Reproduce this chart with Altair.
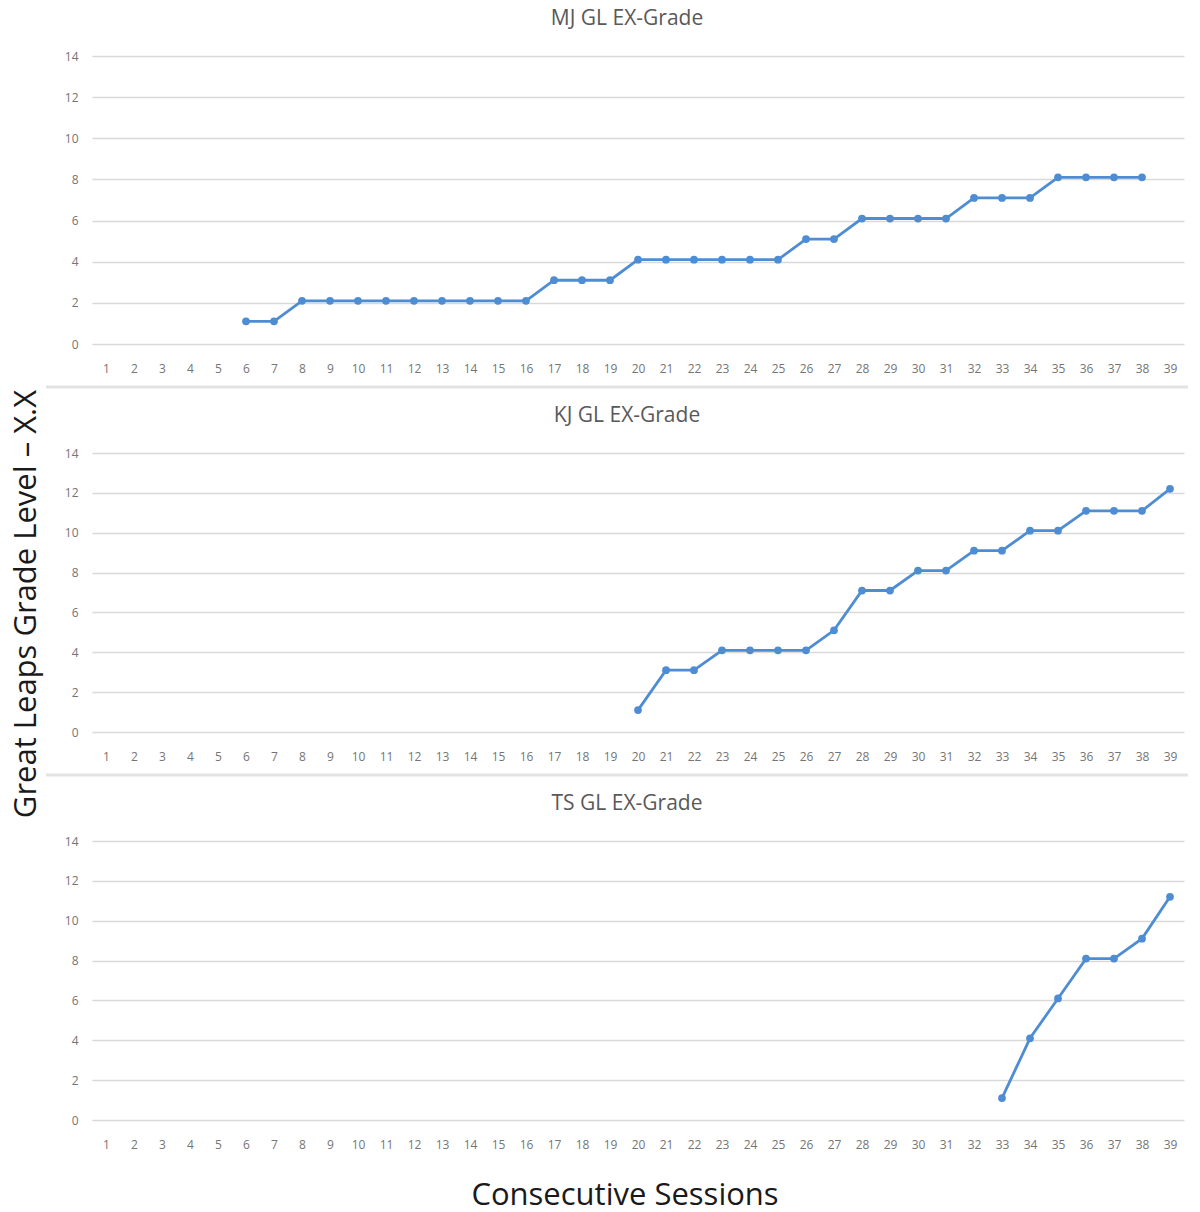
import altair as alt
import pandas as pd

SESSIONS = [str(i) for i in range(1, 40)]
Y_TICKS = [0, 2, 4, 6, 8, 10, 12, 14]

MJ_SESSIONS = ["6", "7", "8", "9", "10", "11", "12", "13", "14", "15", "16", "17", "18", "19",
               "20", "21", "22", "23", "24", "25", "26", "27", "28", "29", "30", "31", "32",
               "33", "34", "35", "36", "37", "38"]
MJ_VALUES = [1.1, 1.1, 2.1, 2.1, 2.1, 2.1, 2.1, 2.1, 2.1, 2.1, 2.1, 3.1, 3.1, 3.1,
             4.1, 4.1, 4.1, 4.1, 4.1, 4.1, 5.1, 5.1, 6.1, 6.1, 6.1, 6.1, 7.1,
             7.1, 7.1, 8.1, 8.1, 8.1, 8.1]

KJ_SESSIONS = ["20", "21", "22", "23", "24", "25", "26", "27", "28", "29", "30", "31",
               "32", "33", "34", "35", "36", "37", "38", "39"]
KJ_VALUES = [1.1, 3.1, 3.1, 4.1, 4.1, 4.1, 4.1, 5.1, 7.1, 7.1, 8.1, 8.1,
             9.1, 9.1, 10.1, 10.1, 11.1, 11.1, 11.1, 12.2]

TS_SESSIONS = ["33", "34", "35", "36", "37", "38", "39"]
TS_VALUES = [1.1, 4.1, 6.1, 8.1, 8.1, 9.1, 11.2]

TITLES = ["MJ GL EX-Grade", "KJ GL EX-Grade", "TS GL EX-Grade"]
Y_TITLE = "Great Leaps Grade Level – X.X"
X_TITLE = "Consecutive Sessions"

BLUE = "#4E8DD3"
GRID = "#D9D9D9"
LABEL = "#757575"
TITLE_C = "#595959"
FONT = "Open Sans"
W = 1092


def text_mark(txt, x, y, size, color, angle=0):
    return alt.Chart(pd.DataFrame({"t": [txt]})).mark_text(
        angle=angle, fontSize=size, font=FONT, color=color, align="center", baseline="middle"
    ).encode(text="t:N", x=alt.value(x), y=alt.value(y))


def panel(title, sessions, values, height, extras=()):
    df = pd.DataFrame({"session": sessions, "value": values})
    x = alt.X("session:O", scale=alt.Scale(domain=SESSIONS, padding=0.5),
              axis=alt.Axis(title=None, labelAngle=0, labelFontSize=12, labelColor=LABEL,
                            labelFont=FONT, domain=False, ticks=False, labelPadding=19,
                            grid=False))
    y = alt.Y("value:Q", scale=alt.Scale(domain=[0, 14], nice=False, zero=True),
              axis=alt.Axis(title=None, values=Y_TICKS, labelFontSize=12, labelColor=LABEL,
                            labelFont=FONT, domain=False, ticks=False, labelPadding=14,
                            gridColor=GRID, gridWidth=1.5))
    base = alt.Chart(df).encode(x=x, y=y)
    line = base.mark_line(color=BLUE, strokeWidth=2.8)
    pts = base.mark_point(color=BLUE, filled=True, size=60, opacity=1)
    ttl = text_mark(title, 535, -37, 21, TITLE_C)
    layers = [line, pts, ttl] + list(extras)
    return alt.layer(*layers).properties(width=W, height=height)


one = pd.DataFrame({"t": [0]})


def separator(ypix):
    return alt.Chart(one).mark_rule(color="#E3E3E3", strokeWidth=3).encode(
        x=alt.value(-46), x2=alt.value(1096), y=alt.value(ypix))


ytitle = text_mark(Y_TITLE, -65, 151, 31, "#1A1A1A", angle=270)
xtitle = text_mark(X_TITLE, 533, 355, 31, "#1A1A1A")

p1 = panel(TITLES[0], MJ_SESSIONS, MJ_VALUES, 288, [separator(331)])
p2 = panel(TITLES[1], KJ_SESSIONS, KJ_VALUES, 279, [separator(322), ytitle])
p3 = panel(TITLES[2], TS_SESSIONS, TS_VALUES, 279, [xtitle])

chart = alt.vconcat(p1, p2, p3, spacing=109, bounds="flush").properties(
    padding={"left": 2, "top": 0, "right": 0, "bottom": 0}, background="white"
).configure_view(strokeWidth=0, stroke="transparent")

chart.save("out.html", embed_options={"renderer": "svg", "actions": False})
